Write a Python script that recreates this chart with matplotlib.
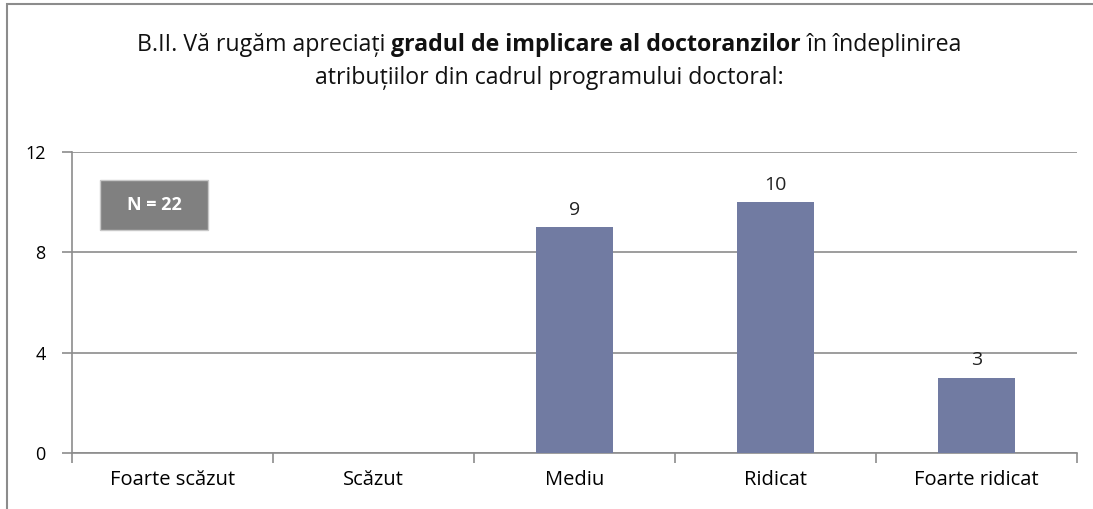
import matplotlib.pyplot as plt
from matplotlib.patches import Rectangle
import numpy as np

categories = ['Foarte scăzut', 'Scăzut', 'Mediu', 'Ridicat', 'Foarte ridicat']
counts = [0, 0, 9, 10, 3]
yticks = [0, 4, 8, 12]
n_label = 'N = 22'

plt.rcParams['font.family'] = ['Open Sans', 'DejaVu Sans']

W, H = 1093, 509
fig = plt.figure(figsize=(W / 100, H / 100), dpi=100)
fig.patch.set_facecolor('white')

# outer frame
fig.patches.append(Rectangle((7 / W, -0.02), 1.1, 1 - 4 / H + 0.02, transform=fig.transFigure,
                             fill=False, edgecolor='#8c8c8c', linewidth=1.5, zorder=0))

ax = fig.add_axes([72 / W, 1 - 453 / H, (1077 - 72) / W, (453 - 152) / H])
x = np.arange(len(categories))
bars = ax.bar(x, counts, width=0.38, color='#717ba2', zorder=3)
for xi, c in zip(x, counts):
    if c > 0:
        ax.annotate(str(c), (xi, c), xytext=(0, 6), textcoords='offset points',
                    ha='center', va='bottom', fontsize=14, color='#222222')

ax.set_xlim(-0.5, len(categories) - 0.5)
ax.set_ylim(0, 12)
ax.set_yticks(yticks)
ax.set_yticklabels([str(t) for t in yticks], fontsize=13)
ax.set_xticks(x)
ax.set_xticklabels(categories, fontsize=14.5)
ax.tick_params(axis='x', length=0, pad=12)
ax.set_xticks(np.arange(-0.5, len(categories)), minor=True)
ax.tick_params(axis='x', which='minor', length=7, color='#8c8c8c', width=1.2)
ax.tick_params(axis='y', length=7, color='#8c8c8c', width=1.2, pad=12)
ax.grid(axis='y', color='#8c8c8c', linewidth=1.2, zorder=0)
for s in ['top', 'right']:
    ax.spines[s].set_visible(False)
for s in ['left', 'bottom']:
    ax.spines[s].set_color('#8c8c8c')
    ax.spines[s].set_linewidth(1.2)
ax.set_axisbelow(True)

# N box
fig.patches.append(Rectangle((100 / W, 1 - 230 / H), 108 / W, 50 / H, transform=fig.transFigure,
                             facecolor='#808080', edgecolor='#c8c8c8', linewidth=1, zorder=5))
fig.text(154 / W, 1 - 205 / H, n_label, ha='center', va='center', fontsize=13,
         fontweight='bold', color='white', zorder=6)

# title with mixed weights
parts = [('B.II. Vă rugăm apreciați ', 'normal'), ('gradul de implicare al doctoranzilor', 'bold'),
         (' în îndeplinirea', 'normal')]
fig.canvas.draw()
r = fig.canvas.get_renderer()
texts = []
for s, wgt in parts:
    t = fig.text(0, 1 - 45 / H, s, fontsize=16.7, fontweight=wgt, va='center', ha='left', color='#111111')
    texts.append(t)
widths = [t.get_window_extent(r).width for t in texts]
total = sum(widths)
start = 549 - total / 2
for t, w in zip(texts, widths):
    t.set_x(start / W)
    start += w
fig.text(549 / W, 1 - 78 / H, 'atribuțiilor din cadrul programului doctoral:', fontsize=16.7,
         ha='center', va='center', color='#111111')

fig.savefig('out.png', dpi=100)
